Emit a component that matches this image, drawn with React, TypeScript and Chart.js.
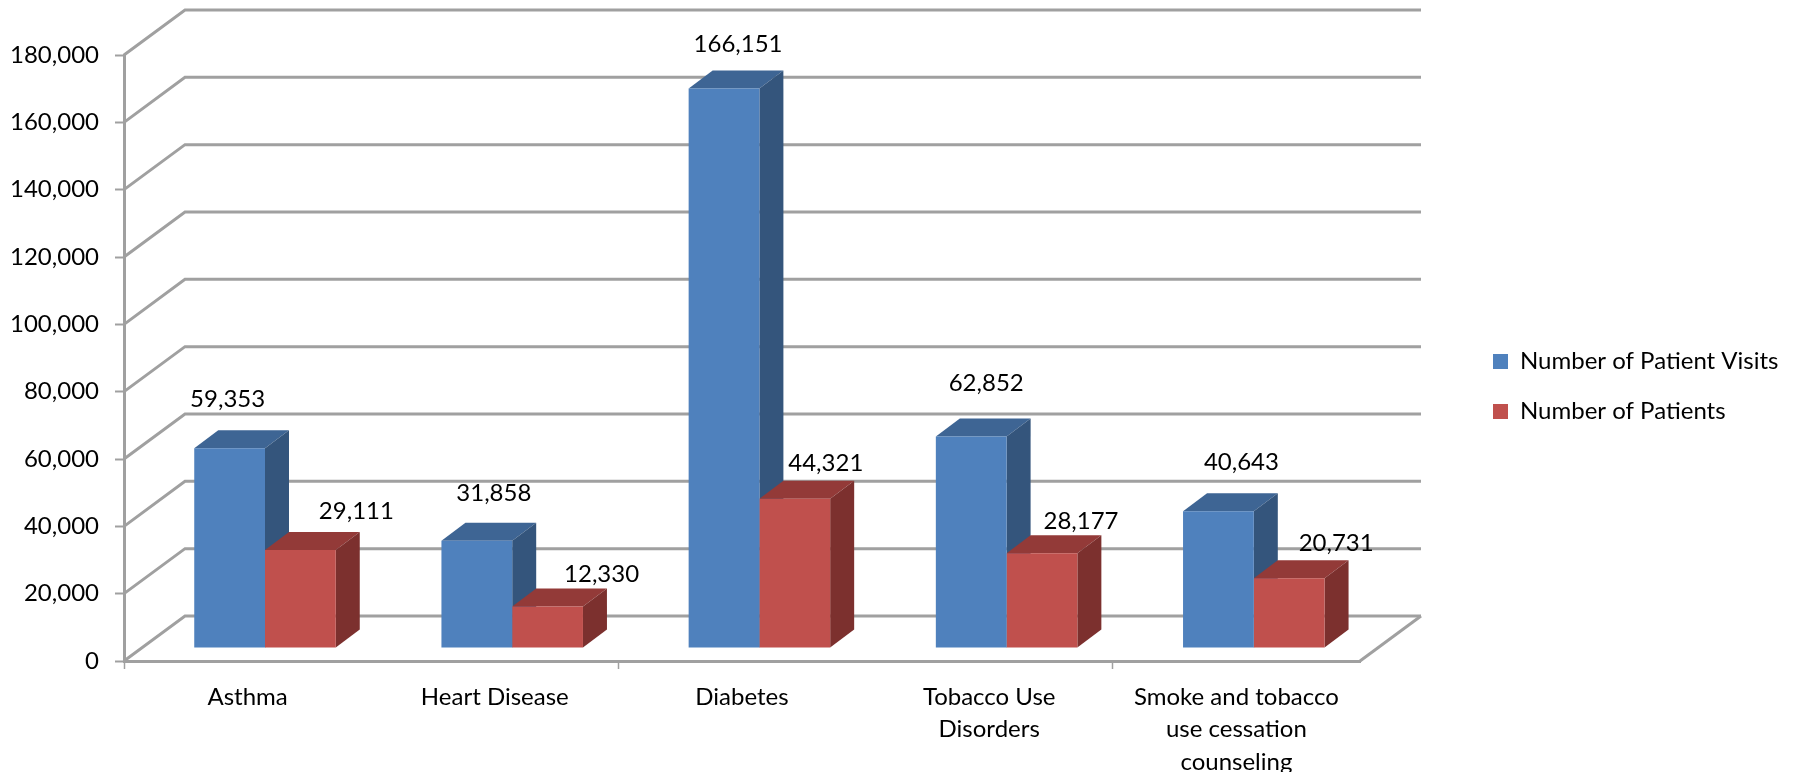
import React, { useEffect, useRef } from "react";
import { Chart, registerables } from "chart.js";

Chart.register(...registerables);

const categories = [
  "Asthma",
  "Heart Disease",
  "Diabetes",
  ["Tobacco Use", "Disorders"],
  ["Smoke and tobacco", "use cessation", "counseling"],
];
const patientVisits = [59353, 31858, 166151, 62852, 40643];
const patients = [29111, 12330, 44321, 28177, 20731];

const WIDTH = 1797;
const HEIGHT = 772;
const FONT = "Lato";
const FONT_SIZE = 24;
const GRID = "#a0a0a0";
const GRID_WIDTH = 3;

// Oblique projection of the box: how far the back wall sits from the front plane.
const WALL_DX = 61;
const WALL_DY = -45;
// Front faces of the bars stand a little inside the floor.
const BAR_DX = 17.4;
const BAR_DY = -13;
// Extrusion of each bar.
const DEPTH_DX = 24;
const DEPTH_DY = -18;

// Hand placement of the value labels relative to the top centre of each bar.
const visitNudges = [[-2, -49], [17, -47], [14, -44], [15, -53], [23, -49]];
const patientNudges = [[56, -39], [54, -32], [31, -36], [39, -32], [47, -35]];

const faces = [
  { top: "#3e6594", side: "#34557c" },
  { top: "#933a38", side: "#7c302e" },
];

function polygon(ctx, points, fill) {
  ctx.beginPath();
  points.forEach(([x, y], i) => (i ? ctx.lineTo(x, y) : ctx.moveTo(x, y)));
  ctx.closePath();
  ctx.fillStyle = fill;
  ctx.fill();
}

const boxPlugin = {
  id: "box3d",
  beforeLayout(chart) {
    // The legend keeps the whole band right of the plot.
    const legend = chart.legend;
    legend.fit = function () {
      Object.getPrototypeOf(this).fit.call(this);
      this.width = WIDTH - 1360;
    };
  },
  afterLayout(chart) {
    const legend = chart.legend;
    legend.left = 1493 - legend.options.labels.padding;
    legend.top -= 27;
    legend.bottom -= 27;
  },
  beforeDatasetsDraw(chart) {
    const { ctx, chartArea, scales } = chart;
    const { left, right, bottom } = chartArea;

    ctx.save();
    ctx.strokeStyle = GRID;
    ctx.lineWidth = GRID_WIDTH;
    ctx.lineJoin = "miter";
    scales.y.ticks.forEach((tick) => {
      const y = scales.y.getPixelForValue(tick.value);
      ctx.beginPath();
      ctx.moveTo(left, y);
      ctx.lineTo(left + WALL_DX, y + WALL_DY);
      ctx.lineTo(right + WALL_DX, y + WALL_DY);
      ctx.stroke();
    });
    // Right edge of the floor.
    ctx.beginPath();
    ctx.moveTo(right, bottom);
    ctx.lineTo(right + WALL_DX, bottom + WALL_DY);
    ctx.stroke();

    // Top and side faces, blue before red so the red top laps over the blue side.
    for (let i = 0; i < categories.length; i++) {
      chart.data.datasets.forEach((_, d) => {
        const bar = chart.getDatasetMeta(d).data[i];
        const x0 = bar.x - bar.width / 2 + BAR_DX;
        const x1 = bar.x + bar.width / 2 + BAR_DX;
        const y0 = bar.y + BAR_DY;
        const yb = bar.base + BAR_DY;
        polygon(ctx, [[x0, y0], [x1, y0], [x1 + DEPTH_DX, y0 + DEPTH_DY], [x0 + DEPTH_DX, y0 + DEPTH_DY]], faces[d].top);
        polygon(ctx, [[x1, y0], [x1 + DEPTH_DX, y0 + DEPTH_DY], [x1 + DEPTH_DX, yb + DEPTH_DY], [x1, yb]], faces[d].side);
      });
    }
    ctx.restore();

    // Chart.js paints the front faces next, moved in from the axis plane.
    ctx.save();
    ctx.translate(BAR_DX, BAR_DY);
  },
  afterDatasetsDraw(chart) {
    const { ctx } = chart;
    ctx.restore();

    ctx.save();
    ctx.font = `${FONT_SIZE}px ${FONT}`;
    ctx.fillStyle = "#000";
    ctx.textAlign = "center";
    ctx.textBaseline = "middle";
    const nudges = [visitNudges, patientNudges];
    chart.data.datasets.forEach((ds, d) => {
      chart.getDatasetMeta(d).data.forEach((bar, i) => {
        const [nx, ny] = nudges[d][i];
        ctx.fillText(
          ds.data[i].toLocaleString("en-US"),
          bar.x + BAR_DX + nx,
          bar.y + BAR_DY + ny
        );
      });
    });
    ctx.restore();
  },
};

export default function App() {
  const ref = useRef<HTMLCanvasElement>(null);

  useEffect(() => {
    const chart = new Chart(ref.current, {
      type: "bar",
      plugins: [boxPlugin],
      data: {
        labels: categories,
        datasets: [
          { label: "Number of Patient Visits", data: patientVisits, backgroundColor: "#4f81bd", clip: false },
          { label: "Number of Patients", data: patients, backgroundColor: "#c0504d", clip: false },
        ],
      },
      options: {
        animation: false,
        responsive: false,
        layout: { padding: { top: 55, left: 0, right: 0, bottom: 0 } },
        datasets: { bar: { categoryPercentage: 0.5725, barPercentage: 1 } },
        plugins: {
          tooltip: { enabled: false },
          legend: {
            position: "right",
            labels: {
              boxWidth: 15,
              boxHeight: 15,
              padding: 26,
              color: "#000",
              font: { family: FONT, size: FONT_SIZE },
            },
          },
        },
        scales: {
          x: {
            afterFit: (s) => {
              s.height = HEIGHT - 661;
            },
            border: { color: GRID, width: GRID_WIDTH },
            grid: {
              drawOnChartArea: false,
              tickLength: 8,
              tickWidth: 1.5,
              // Tick marks fall on every second category boundary.
              tickColor: (c) => (c.index % 2 === 0 && c.index < 5 ? GRID : "rgba(0,0,0,0)"),
            },
            ticks: {
              autoSkip: false,
              maxRotation: 0,
              padding: 12,
              color: "#000",
              font: { family: FONT, size: FONT_SIZE, lineHeight: 1.35 },
            },
          },
          y: {
            min: 0,
            max: 180000,
            afterFit: (s) => {
              s.width = 124;
            },
            border: { color: GRID, width: GRID_WIDTH },
            grid: { drawOnChartArea: false, tickLength: 9, tickWidth: 2, tickColor: GRID },
            ticks: {
              stepSize: 20000,
              padding: 16,
              color: "#000",
              font: { family: FONT, size: FONT_SIZE },
              callback: (v) => Number(v).toLocaleString("en-US"),
            },
          },
        },
      },
    });
    return () => chart.destroy();
  }, []);

  return (
    <div style={{ position: "fixed", left: 0, top: 0, width: WIDTH, height: HEIGHT, background: "#fff" }}>
      <canvas ref={ref} width={WIDTH} height={HEIGHT} style={{ display: "block" }} />
    </div>
  );
}
